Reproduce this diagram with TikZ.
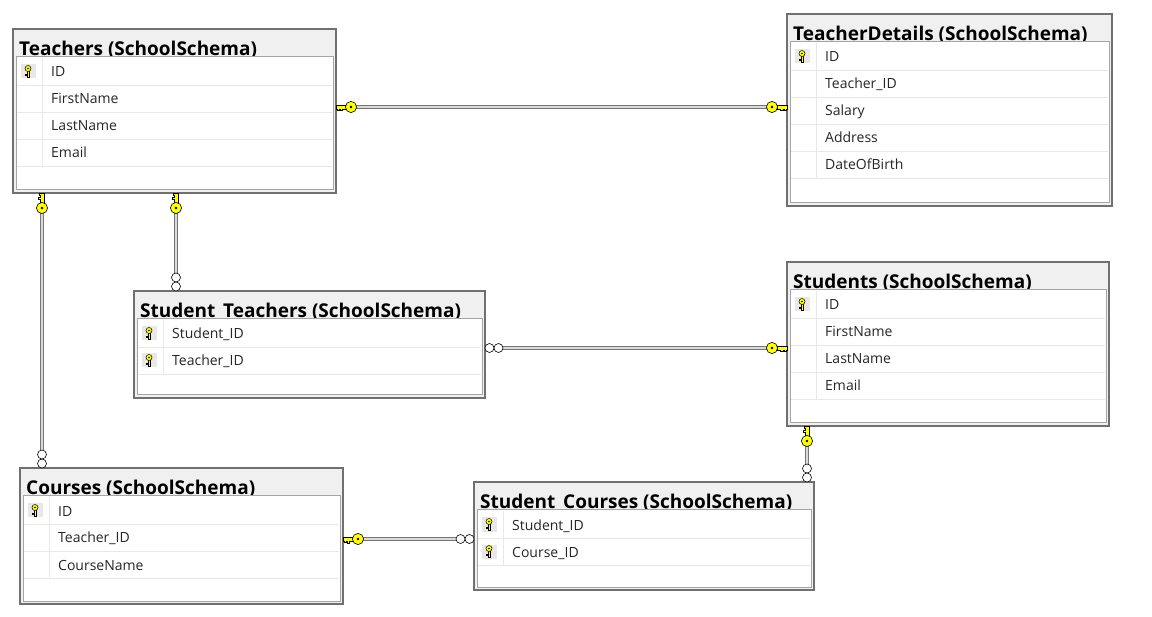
\documentclass[tikz,border=0pt]{standalone}
\usepackage{fontspec}
\setmainfont{Open Sans}
\usepackage{tikz}
\usetikzlibrary{positioning,calc}

\definecolor{boxgray}{RGB}{112,112,112}
\definecolor{headgray}{RGB}{240,240,240}
\definecolor{innergray}{RGB}{165,165,165}
\definecolor{rowgray}{RGB}{232,232,232}
\definecolor{keyyellow}{RGB}{255,255,0}
\definecolor{linegray}{RGB}{118,118,118}
\definecolor{linelight}{RGB}{218,218,218}

% one table of the schema: name, x, y, width, height, title, fields
\newcommand{\schematable}[7]{%
  \node[tablebox, minimum width=#4pt, minimum height=#5pt, anchor=north west] (#1) at (#2,#3) {};
  \node[tabletitle, anchor=base west] at (#2+6,#3+27) {#6};
  \draw[innerbox] (#2+3,#3+28) rectangle (#2+#4-3,#3+#5-3);
  \foreach \fname/\iskey [count=\i from 0] in {#7} {
    \draw[rowline] (#2+4,#3+56+27*\i) -- (#2+#4-4,#3+56+27*\i);
    \draw[rowline] (#2+29,#3+29) -- (#2+29,#3+56+27*\i);
    \node[fieldtext, anchor=base west] at (#2+38,#3+48+27*\i) {\fname};
    \ifnum\iskey=1 \pic at (#2+15,#3+42.5+27*\i) {keyicon};\fi
  }
}

\begin{document}
\begin{tikzpicture}[x=1pt,y=-1pt,
    tablebox/.style={draw=boxgray, fill=headgray, line width=1.2pt, outer sep=0pt, inner sep=0pt},
    tabletitle/.style={inner sep=0pt, font=\bfseries\fontsize{19}{22}\selectfont},
    innerbox/.style={draw=innergray, fill=white, line width=1pt},
    rowline/.style={draw=rowgray, line width=0.8pt},
    fieldtext/.style={inner sep=0pt, text=black!85, font=\fontsize{14}{16}\selectfont},
    relline/.style={draw=linegray, double=linelight, line width=1pt, double distance=1.8pt},
    keyicon/.pic={
      \fill[rowgray] (-7.5,-7) rectangle (7.5,7);
      \draw[fill=keyyellow, line width=0.5pt] (-1.2,-1) -- (1.2,-1) -- (1.2,5.5) -- (-1.2,5.5) -- (-1.2,4) -- (-2.4,4) -- (-2.4,2.4) -- (-1.2,2.4) -- cycle;
      \draw[fill=keyyellow, line width=0.5pt] (0,-3) circle (3);
      \fill (0,-3) circle (0.9);
    },
    fkey/.pic={
      \draw[fill=keyyellow, line width=0.6pt] (0,-2) -- (10,-2) -- (10,2) -- (6.5,2) -- (6.5,3.8) -- (4,3.8) -- (4,2) -- (2.8,2) -- (2.8,3.2) -- (0.8,3.2) -- (0.8,2) -- (0,2) -- cycle;
      \draw[fill=keyyellow, line width=0.6pt] (15,0) circle (5.6);
      \fill (15,0) circle (1.4);
    },
    manyend/.pic={
      \draw[fill=white, line width=0.6pt] (4.5,0) circle (4.5) (13.5,0) circle (4.5);
    }]
  \useasboundingbox[fill=white] (0,0) rectangle (1152,617);

  % Tables
  \schematable{teachers}{13}{29}{323}{164}{Teachers (SchoolSchema)}{ID/1, FirstName/0, LastName/0, Email/0}
  \schematable{details}{787}{14}{325}{192}{TeacherDetails (SchoolSchema)}{ID/1, Teacher\_ID/0, Salary/0, Address/0, DateOfBirth/0}
  \schematable{stuteach}{134}{291}{351}{107}{Student\_Teachers (SchoolSchema)}{Student\_ID/1, Teacher\_ID/1}
  \schematable{students}{787}{262}{322}{164}{Students (SchoolSchema)}{ID/1, FirstName/0, LastName/0, Email/0}
  \schematable{courses}{20}{468}{323}{136}{Courses (SchoolSchema)}{ID/1, Teacher\_ID/0, CourseName/0}
  \schematable{stucourse}{474}{482}{340}{108}{Student\_Courses (SchoolSchema)}{Student\_ID/1, Course\_ID/1}

  % Relationships
  \coordinate (r1a) at (teachers.east |- 0,107);
  \coordinate (r1b) at (details.west |- 0,107);
  \draw[relline] (r1a) -- (r1b);
  \pic at (r1a) {fkey};
  \pic[xscale=-1] at (r1b) {fkey};

  \coordinate (r2a) at (42,0 |- teachers.south);
  \coordinate (r2b) at (42,0 |- courses.north);
  \draw[relline] (r2a) -- (r2b);
  \pic[rotate=-90] at (r2a) {fkey};
  \pic[rotate=90] at (r2b) {manyend};

  \coordinate (r3a) at (176,0 |- teachers.south);
  \coordinate (r3b) at (176,0 |- stuteach.north);
  \draw[relline] (r3a) -- (r3b);
  \pic[rotate=-90] at (r3a) {fkey};
  \pic[rotate=90] at (r3b) {manyend};

  \coordinate (r4a) at (stuteach.east |- 0,348);
  \coordinate (r4b) at (students.west |- 0,348);
  \draw[relline] (r4a) -- (r4b);
  \pic at (r4a) {manyend};
  \pic[xscale=-1] at (r4b) {fkey};

  \coordinate (r5a) at (courses.east |- 0,539);
  \coordinate (r5b) at (stucourse.west |- 0,539);
  \draw[relline] (r5a) -- (r5b);
  \pic at (r5a) {fkey};
  \pic[rotate=180] at (r5b) {manyend};

  \coordinate (r6a) at (807,0 |- students.south);
  \coordinate (r6b) at (807,0 |- stucourse.north);
  \draw[relline] (r6a) -- (r6b);
  \pic[rotate=-90] at (r6a) {fkey};
  \pic[rotate=90] at (r6b) {manyend};
\end{tikzpicture}
\end{document}
